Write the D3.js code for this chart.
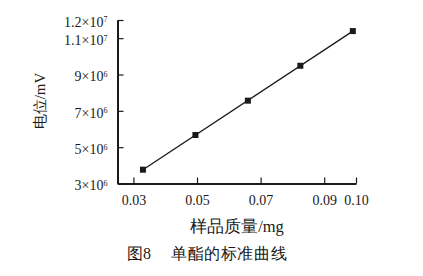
<!DOCTYPE html>
<html>
<head>
<meta charset="utf-8">
<script src="https://cdn.jsdelivr.net/npm/d3@7"></script>
<style>
  body { margin: 0; background: #fff; }
  svg { display: block; }
</style>
</head>
<body>
<svg id="svg" width="423" height="276"></svg>
<script>
// sample mass (mg) and potential (mV)
const mass = [0.033, 0.0495, 0.066, 0.0825, 0.099]
const potential = [3.76e6, 5.67e6, 7.56e6, 9.48e6, 11.39e6]
const xTicks = [0.03, 0.05, 0.07, 0.09, 0.10]
const yTicks = [3e6, 5e6, 7e6, 9e6, 11e6, 12e6]
const yTickBase = ["3", "5", "7", "9", "1.1", "1.2"]
const yTickExp = ["6", "6", "6", "6", "7", "7"]

window.addEventListener('load', function() {
    const svg = d3.select("#svg")
        .attr("font-family", "'Liberation Serif', 'Times New Roman', serif")
        .attr("fill", "#222")

    const x = d3.scaleLinear().domain([0.025, 0.10]).range([117.5, 356])
    const y = d3.scaleLinear().domain([3e6, 12e6]).range([183.5, 20])

    const ink = "#1a1a1a"

    // x axis
    const gx = svg.append("g").attr("transform", "translate(0,183.5)")
        .call(d3.axisBottom(x).tickValues(xTicks).tickSizeInner(-6).tickSizeOuter(0).tickFormat(d3.format(".2f")).tickPadding(12))
    gx.select(".domain").attr("stroke", ink).attr("stroke-width", 2)
    gx.selectAll(".tick line").attr("stroke", ink).attr("stroke-width", 1.2)
    gx.selectAll(".tick text").attr("font-size", 14).attr("fill", ink)
        .attr("font-family", "'Liberation Serif', serif")

    // y axis
    const gy = svg.append("g").attr("transform", "translate(117.5,0)")
        .call(d3.axisLeft(y).tickValues(yTicks).tickSizeInner(-6).tickSizeOuter(0).tickFormat(""))
    gy.select(".domain").attr("stroke", ink).attr("stroke-width", 2)
    gy.selectAll(".tick line").attr("stroke", ink).attr("stroke-width", 1.2)

    const lab = gy.selectAll(".tick").append("text")
        .attr("x", -10)
        .attr("dy", "0.45em")
        .attr("text-anchor", "end")
        .attr("font-size", 14)
        .attr("fill", ink)
        .attr("font-family", "'Liberation Serif', serif")
    lab.append("tspan").text((d, i) => yTickBase[i] + "×10")
    lab.append("tspan").attr("dy", "-0.55em").attr("font-size", 8).text((d, i) => yTickExp[i])

    // fitted line through the standards
    const n = mass.length
    const mx = d3.mean(mass), my = d3.mean(potential)
    let sxy = 0, sxx = 0
    for (i = 0; i < n; i++) {
        sxy += (mass[i] - mx) * (potential[i] - my)
        sxx += (mass[i] - mx) * (mass[i] - mx)
    }
    const slope = sxy / sxx, icpt = my - slope * mx
    const ends = [mass[0], mass[n - 1]]
    svg.append("line")
        .attr("x1", x(ends[0])).attr("y1", y(icpt + slope * ends[0]))
        .attr("x2", x(ends[1])).attr("y2", y(icpt + slope * ends[1]))
        .attr("stroke", ink).attr("stroke-width", 1.3)

    svg.selectAll("rect.pt")
        .data(mass)
        .enter()
        .append("rect")
        .attr("class", "pt")
        .attr("x", d => x(d) - 3)
        .attr("y", (d, i) => y(potential[i]) - 3)
        .attr("width", 6).attr("height", 6)
        .attr("fill", ink)

    // axis titles
    svg.append("text")
        .attr("transform", "translate(45,101) rotate(-90)")
        .attr("text-anchor", "middle")
        .attr("font-size", 15)
        .attr("fill", ink)
        .text("电位/mV")

    svg.append("text")
        .attr("x", 237).attr("y", 232)
        .attr("text-anchor", "middle")
        .attr("font-size", 16.5)
        .attr("fill", ink)
        .text("样品质量/mg")

    svg.append("text")
        .attr("x", 127).attr("y", 259)
        .attr("font-size", 16)
        .attr("fill", ink)
        .text("图8")
    svg.append("text")
        .attr("x", 171).attr("y", 259)
        .attr("font-size", 16)
        .attr("letter-spacing", 0.6)
        .attr("fill", ink)
        .text("单酯的标准曲线")
})
</script>
</body>
</html>
